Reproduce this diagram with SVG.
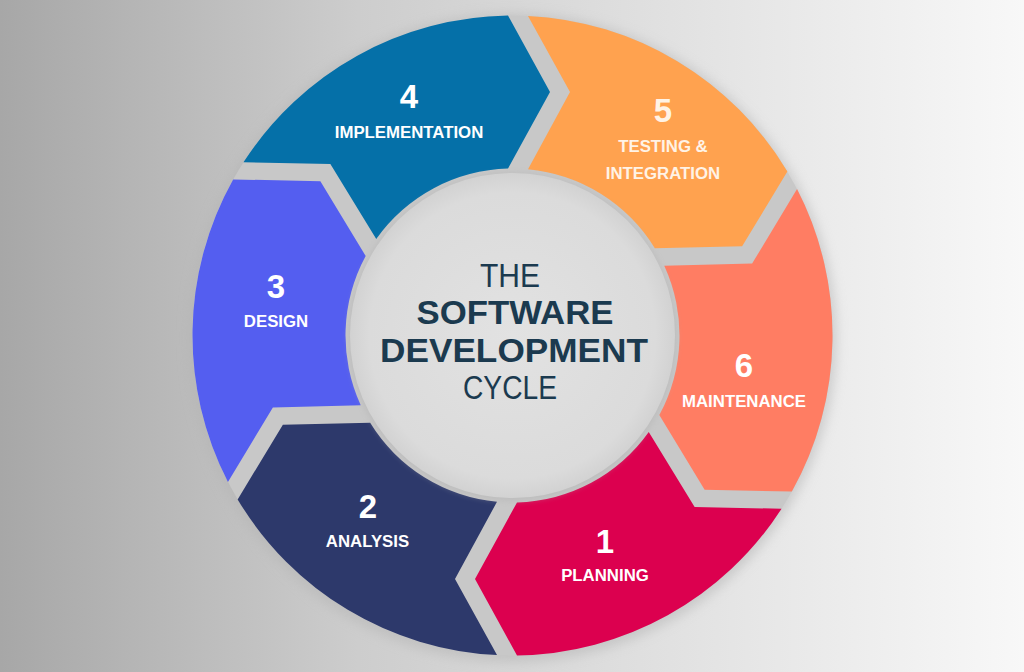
<svg xmlns="http://www.w3.org/2000/svg" width="1024" height="672" viewBox="0 0 1024 672">
<defs>
<linearGradient id="bg" x1="0" y1="0" x2="1" y2="0">
<stop offset="0" stop-color="#a7a7a7"/>
<stop offset="0.35" stop-color="#cdcdcd"/>
<stop offset="0.7" stop-color="#e4e4e4"/>
<stop offset="1" stop-color="#f8f8f8"/>
</linearGradient>
<radialGradient id="hub" cx="0.5" cy="0.5" r="0.5">
<stop offset="0" stop-color="#e2e2e2"/>
<stop offset="0.88" stop-color="#dbdbdb"/>
<stop offset="1" stop-color="#d2d2d2"/>
</radialGradient>
<filter id="blur6" x="-20%" y="-20%" width="140%" height="140%"><feGaussianBlur stdDeviation="6"/></filter>
<filter id="blur3" x="-20%" y="-20%" width="140%" height="140%"><feGaussianBlur stdDeviation="3"/></filter>
<style>
.num{font-family:"Liberation Sans",Arial,sans-serif;font-weight:bold;font-size:33px;fill:#ffffff;text-anchor:middle}
.lbl{font-family:"Liberation Sans",Arial,sans-serif;font-weight:bold;font-size:16.8px;fill:#ffffff;text-anchor:middle}
.cream{fill:#fff3e6}
.ct{font-family:"Liberation Sans",Arial,sans-serif;font-size:33px;fill:#1b3a4f;text-anchor:middle}
.cb{font-family:"Liberation Sans",Arial,sans-serif;font-weight:bold;font-size:34px;fill:#1b3a4f;text-anchor:middle}
</style>
</defs>
<rect x="0" y="0" width="1024" height="672" fill="url(#bg)"/>
<circle cx="512.5" cy="338" r="324" fill="#b4b4b4" opacity="0.55" filter="url(#blur6)"/>
<circle cx="512.5" cy="335.5" r="320" fill="#c8c8c8"/>

<g id="node-1">
<path d="M 781.55 508.73 A 320 320 0 0 1 517.0 655.47 L 475.0 579.0 L 517.0 502.44 A 167 167 0 0 0 648.75 432.06 L 694.63 507.05 Z" fill="#dc004f"/>
<text class="num" x="605" y="553.3">1</text>
<text class="lbl" x="605" y="581">PLANNING</text>
</g>
<g id="node-2">
<path d="M 497.0 655.12 A 320 320 0 0 1 237.65 499.38 L 282.87 424.77 L 370.18 422.87 A 167 167 0 0 0 497.0 501.78 L 455.0 579.0 Z" fill="#2d396b"/>
<text class="num" x="368" y="518.3">2</text>
<text class="lbl" x="367.5" y="546.7">ANALYSIS</text>
</g>
<g id="node-3">
<path d="M 227.95 481.89 A 320 320 0 0 1 233.15 179.41 L 320.37 181.27 L 365.68 255.93 A 167 167 0 0 0 360.75 405.22 L 272.87 407.45 Z" fill="#545ef0"/>
<text class="num" x="276" y="298">3</text>
<text class="lbl" x="276" y="326.5">DESIGN</text>
</g>
<g id="node-4">
<path d="M 243.45 162.27 A 320 320 0 0 1 508.0 15.53 L 550.0 92.0 L 508.0 168.56 A 167 167 0 0 0 376.25 238.94 L 330.37 163.95 Z" fill="#0570a8"/>
<text class="num" x="409" y="108.3">4</text>
<text class="lbl" x="409" y="138.3">IMPLEMENTATION</text>
</g>
<g id="node-5">
<path d="M 528.0 15.88 A 320 320 0 0 1 787.35 171.62 L 742.13 246.23 L 654.82 248.13 A 167 167 0 0 0 528.0 169.22 L 570.0 92.0 Z" fill="#ffa24f"/>
<text class="num cream" x="663" y="121.7">5</text>
<text class="lbl cream" x="663" y="151.7">TESTING &amp;</text>
<text class="lbl cream" x="663" y="179.3">INTEGRATION</text>
</g>
<g id="node-6">
<path d="M 797.05 189.11 A 320 320 0 0 1 791.85 491.59 L 704.63 489.73 L 659.32 415.07 A 167 167 0 0 0 664.25 265.78 L 752.13 263.55 Z" fill="#ff7d63"/>
<text class="num" x="744" y="377">6</text>
<text class="lbl" x="744" y="407">MAINTENANCE</text>
</g>

<g id="hub-center">
<circle cx="512.5" cy="337" r="164" fill="#b0b0b0" opacity="0.45" filter="url(#blur3)"/>
<circle cx="512.5" cy="335.5" r="162.5" fill="url(#hub)"/>
<text class="ct" x="510" y="287.3" textLength="60" lengthAdjust="spacingAndGlyphs">THE</text>
<text class="cb" x="515" y="324" textLength="197" lengthAdjust="spacingAndGlyphs">SOFTWARE</text>
<text class="cb" x="514" y="361.7" textLength="268" lengthAdjust="spacingAndGlyphs">DEVELOPMENT</text>
<text class="ct" x="510" y="399" textLength="94" lengthAdjust="spacingAndGlyphs">CYCLE</text>
</g>
<g id="connectors"/>
</svg>
